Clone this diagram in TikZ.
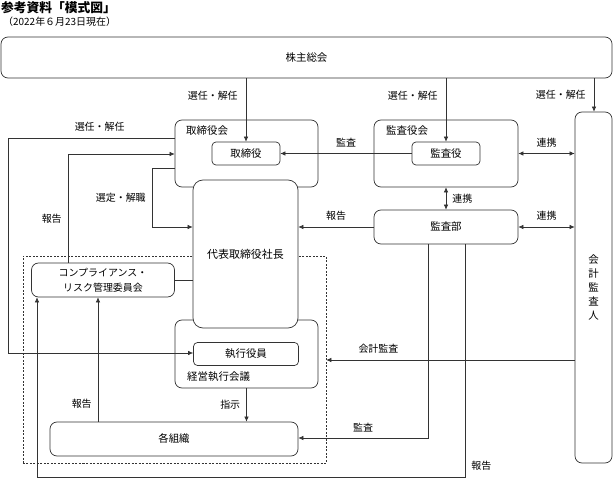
\documentclass[tikz,border=0pt]{standalone}
\usepackage{fontspec}
\setmainfont{Noto Sans CJK JP}
\usetikzlibrary{arrows.meta}

\begin{document}
\begin{tikzpicture}[x=1bp, y=-1bp,
    every node/.style={inner sep=0pt, font=\fontsize{10.5}{12}\selectfont},
    box/.style={draw=black!80, rounded corners=7bp, fill=white, line width=0.7bp},
    sbox/.style={box, rounded corners=4bp},
    arr/.style={draw=black!80, line width=0.6bp, -{Latex[length=5bp,width=4.5bp]}},
    darr/.style={draw=black!80, line width=0.6bp, {Latex[length=5bp,width=4.5bp]}-{Latex[length=5bp,width=4.5bp]}},
    ln/.style={draw=black!80, line width=0.6bp},
    lbl/.style={font=\fontsize{10}{12}\selectfont}]
    \useasboundingbox (0,0) rectangle (613,479);

    % Title
    \node[anchor=west] (title) at (1,8) {\fontsize{12.8}{15}\selectfont\bfseries 参考資料「模式図」};
    \node[anchor=west] (date) at (3,22) {\fontsize{10}{11}\selectfont （2022年６月23日現在）};

    % Executive group (dashed)
    \node[draw=black!80, dash pattern=on 2bp off 1.5bp, line width=0.6bp,
          minimum width=303bp, minimum height=207bp] (grp) at (174.5,359.5) {};

    % Boxes
    \node[box, minimum width=611bp, minimum height=41bp] (soukai) at (306.5,57.5) {株主総会};
    \node[box, minimum width=143bp, minimum height=67bp] (torikai) at (246.5,153.5) {};
    \node[anchor=west] (torikailbl) at (186,131) {取締役会};
    \node[sbox, minimum width=68bp, minimum height=23bp] (tori) at (246,153.5) {取締役};
    \node[box, minimum width=144bp, minimum height=67bp] (kansakai) at (446,153.5) {};
    \node[anchor=west] (kansakailbl) at (386,131) {監査役会};
    \node[sbox, minimum width=68bp, minimum height=23bp] (kansa) at (446,153.5) {監査役};
    \node[box, minimum width=144bp, minimum height=34bp] (kansabu) at (446,227) {監査部};
    \node[box, minimum width=37bp, minimum height=351bp, align=center,
          font=\fontsize{10.5}{14.2}\selectfont] (kaikei) at (593.5,287.5) {会\\計\\監\\査\\人};
    \node[box, minimum width=143bp, minimum height=68bp] (keiei) at (246.5,354) {};
    \node[anchor=west] (keieilbl) at (187,377) {経営執行会議};
    \node[sbox, minimum width=105bp, minimum height=23bp] (shikko) at (246,354) {執行役員};
    \node[box, minimum width=105bp, minimum height=148bp, rounded corners=10bp] (daihyo) at (245.5,254)
          {\fontsize{11}{13}\selectfont 代表取締役社長};
    \node[box, minimum width=143bp, minimum height=34bp, align=center,
          font=\fontsize{10}{15}\selectfont] (comp) at (103,280) {コンプライアンス・\\リスク管理委員会};
    \node[box, minimum width=248bp, minimum height=34bp] (soshiki) at (174,439) {各組織};

    % Election by shareholders
    \draw[arr] (soukai.south -| tori) -- (tori.north) node[lbl, pos=0.28, left=8bp] {選任・解任};
    \draw[arr] (soukai.south -| kansa) -- (kansa.north) node[lbl, pos=0.28, left=8bp] {選任・解任};
    \draw[arr] (soukai.south -| 594,0) -- (kaikei.north -| 594,0) node[lbl, midway, left=8bp] {選任・解任};

    % Audit and cooperation
    \draw[arr] (kansa.west) -- (tori.east) node[lbl, midway, above=6bp] {監査};
    \draw[darr] (kansakai.east) -- (kansakai.east -| kaikei.west) node[lbl, midway, above=6bp] {連携};
    \draw[darr] (kansakai.south) -- (kansabu.north) node[lbl, midway, right=6bp] {連携};
    \draw[darr] (kansabu.east) -- (kansabu.east -| kaikei.west) node[lbl, midway, above=6bp] {連携};
    \draw[arr] (kansabu.west) -- (kansabu.west -| daihyo.east) node[lbl, midway, above=6bp] {報告};
    \draw[arr] (kaikei.west |- 0,360) -- (grp.east |- 0,360) node[lbl, pos=0.79, above=6bp] {会計監査};

    % Board to executives
    \draw[arr] (torikai.west |- 0,168) -- (152,168) -- (152,227) node[lbl, midway, left=6bp] {選定・解職}
        -- (daihyo.west |- 0,227);
    \draw[arr] (torikai.west |- 0,138) -- (8,138) node[lbl, pos=0.45, above=6bp] {選任・解任}
        -- (8,353) -- (shikko.west |- 0,353);

    % Compliance committee
    \draw[arr] (comp.north -| 68,0) -- (68,154) node[lbl, pos=0.4, left=6bp] {報告} -- (torikai.west |- 0,154);
    \draw[ln] (comp.east) -- (comp.east -| daihyo.west);
    \draw[arr] (soshiki.north -| 98,0) -- (comp.south -| 98,0) node[lbl, pos=0.14, left=6bp] {報告};
    \draw[arr] (kansabu.south -| 465,0) -- (465,477) node[lbl, pos=0.95, right=6bp] {報告}
        -- (37,477) -- (comp.south -| 37,0);

    % Execution
    \draw[arr] (keiei.south) -- (soshiki.north -| keiei.south) node[lbl, midway, left=6bp] {指示};
    \draw[arr] (kansabu.south -| 428,0) -- (428,438) -- (soshiki.east |- 0,438) node[lbl, midway, above=6bp] {監査};
\end{tikzpicture}
\end{document}
